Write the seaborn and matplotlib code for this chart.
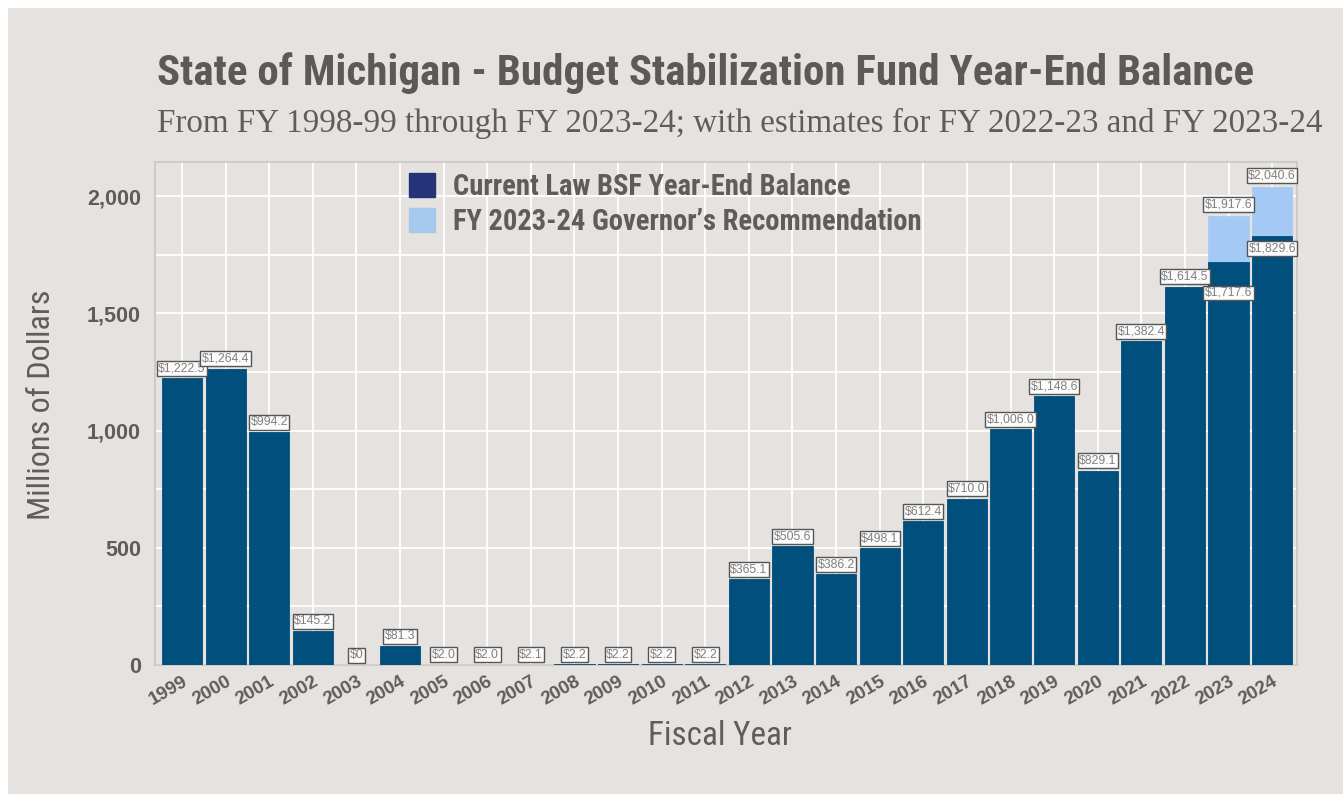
import matplotlib
matplotlib.use('Agg')
import matplotlib.pyplot as plt
import matplotlib.patches as mpatches
from matplotlib.ticker import MultipleLocator, FuncFormatter
import seaborn as sns
import pandas as pd

years = ['1999', '2000', '2001', '2002', '2003', '2004', '2005', '2006', '2007',
         '2008', '2009', '2010', '2011', '2012', '2013', '2014', '2015', '2016',
         '2017', '2018', '2019', '2020', '2021', '2022', '2023', '2024']
current = [1222.5, 1264.4, 994.2, 145.2, 0.0, 81.3, 2.0, 2.0, 2.1, 2.2, 2.2, 2.2,
           2.2, 365.1, 505.6, 386.2, 498.1, 612.4, 710.0, 1006.0, 1148.6, 829.1,
           1382.4, 1614.5, 1717.6, 1829.6]
gov_years = ['2023', '2024']
gov_values = [1917.6, 2040.6]

cur_df = pd.DataFrame({'year': years, 'value': current})
gov_df = pd.DataFrame({'year': gov_years, 'value': gov_values})

bg = '#e5e2df'
dark = '#004f7c'
light = '#a3c9f4'
txt = '#615c59'
cond = ['Roboto Condensed', 'Liberation Sans Narrow', 'DejaVu Sans']

sns.set_style('white')
plt.rcParams['font.family'] = ['Liberation Sans', 'DejaVu Sans']

fig = plt.figure(figsize=(13.43, 7.94), dpi=100, facecolor='white')
fig.patches.append(mpatches.Rectangle((8 / 1343, 0), 1 - 8 / 1343, 1 - 8 / 794,
                                      transform=fig.transFigure, facecolor=bg,
                                      edgecolor='none', zorder=-10))
ax = fig.add_axes([155 / 1343, 1 - 665 / 794, 1142 / 1343, 503 / 794])
ax.set_facecolor(bg)


def fit(t, target, vertical=False):
    # scale a text's size so it spans target pixels
    fig.canvas.draw()
    bb = t.get_window_extent(fig.canvas.get_renderer())
    w = bb.height if vertical else bb.width
    t.set_fontsize(t.get_fontsize() * target / w)
    return t.get_fontsize()


sns.barplot(data=gov_df, x='year', y='value', order=years, color=light,
            width=0.92, saturation=1, edgecolor=light, linewidth=0.5, ax=ax, zorder=3)
sns.barplot(data=cur_df, x='year', y='value', order=years, color=dark,
            width=0.92, saturation=1, edgecolor=dark, linewidth=0.6, ax=ax, zorder=4)

ax.set_xlabel('')
ax.set_ylabel('')
ax.set_ylim(0, 2146)
ax.set_xlim(-0.62, 25.57)
ax.yaxis.set_major_locator(MultipleLocator(500))
ax.yaxis.set_minor_locator(MultipleLocator(250))
ax.yaxis.set_major_formatter(FuncFormatter(lambda v, p: f'{v:,.0f}'))
ax.grid(True, which='both', color='white', linewidth=1.3, zorder=0)
ax.set_axisbelow(True)
ax.tick_params(axis='both', length=0, colors=txt)
for lab in ax.get_yticklabels():
    lab.set_fontsize(15.5)
    lab.set_fontweight('bold')
for lab in ax.get_xticklabels():
    lab.set_fontsize(13.5)
    lab.set_fontweight('bold')
    lab.set_rotation(30)
    lab.set_ha('right')
    lab.set_rotation_mode('anchor')
ax.tick_params(axis='x', pad=6)
ax.tick_params(axis='y', pad=10)
for s in ax.spines.values():
    s.set_color('#c9c6c3')
    s.set_linewidth(1.2)


def fmt(v):
    return '$0' if v == 0 else f'${v:,.1f}'


box = dict(boxstyle='square,pad=0.12', facecolor='#fbfbfb', edgecolor='#555555', linewidth=1)
for i, v in enumerate(current):
    off = 7
    if years[i] == '2023':
        off = -22
    elif years[i] == '2024':
        off = -9
    ax.annotate(fmt(v), (i, v), xytext=(0, off), textcoords='offset points',
                ha='center', va='center', fontsize=8.8, color='#808080', bbox=box, zorder=6)
for y, v in zip(gov_years, gov_values):
    ax.annotate(fmt(v), (years.index(y), v), xytext=(0, 8), textcoords='offset points',
                ha='center', va='center', fontsize=8.8, color='#808080', bbox=box, zorder=6)

# titles, fitted to the reference widths
title = fig.text(157 / 1343, 1 - 73 / 794,
                 'State of Michigan - Budget Stabilization Fund Year-End Balance',
                 fontsize=30, fontweight='bold', family=cond, fontstretch='condensed',
                 color='#5e5955', va='center', ha='left')
fit(title, 1096)
sub = fig.text(157 / 1343, 1 - 123 / 794,
               'From FY 1998-99 through FY 2023-24; with estimates for FY 2022-23 and FY 2023-24',
               fontsize=22.5, family=['Liberation Serif', 'DejaVu Serif'], color='#615c59',
               va='center', ha='left')
fit(sub, 1165)

xl = fig.text(720 / 1343, 1 - 736 / 794, 'Fiscal Year', fontsize=20, family=cond,
              fontstretch='condensed', color=txt, ha='center', va='center')
fit(xl, 144)
yl = fig.text(42 / 1343, 1 - 405 / 794, 'Millions of Dollars', fontsize=20, family=cond,
              fontstretch='condensed', color=txt, ha='center', va='center', rotation=90)
fit(yl, 230, vertical=True)

probe = fig.text(0, 0, 'Current Law BSF Year-End Balance', fontsize=19, family=cond,
                 fontstretch='condensed', fontweight='bold')
leg_size = fit(probe, 398)
probe.remove()

handles = [mpatches.Patch(color='#253378', label='Current Law BSF Year-End Balance'),
           mpatches.Patch(color='#a6c8ec', label='FY 2023-24 Governor\u2019s Recommendation')]
leg = ax.legend(handles=handles, loc='upper left', bbox_to_anchor=(0.205, 1.018),
                frameon=False, handlelength=19 / leg_size, handleheight=19 / leg_size,
                handletextpad=0.6, labelspacing=0.25, borderaxespad=0.3,
                prop=dict(family=cond, weight='bold', size=leg_size, stretch='condensed'))
for t in leg.get_texts():
    t.set_color(txt)

fig.savefig('out.png', dpi=100, facecolor='white')
